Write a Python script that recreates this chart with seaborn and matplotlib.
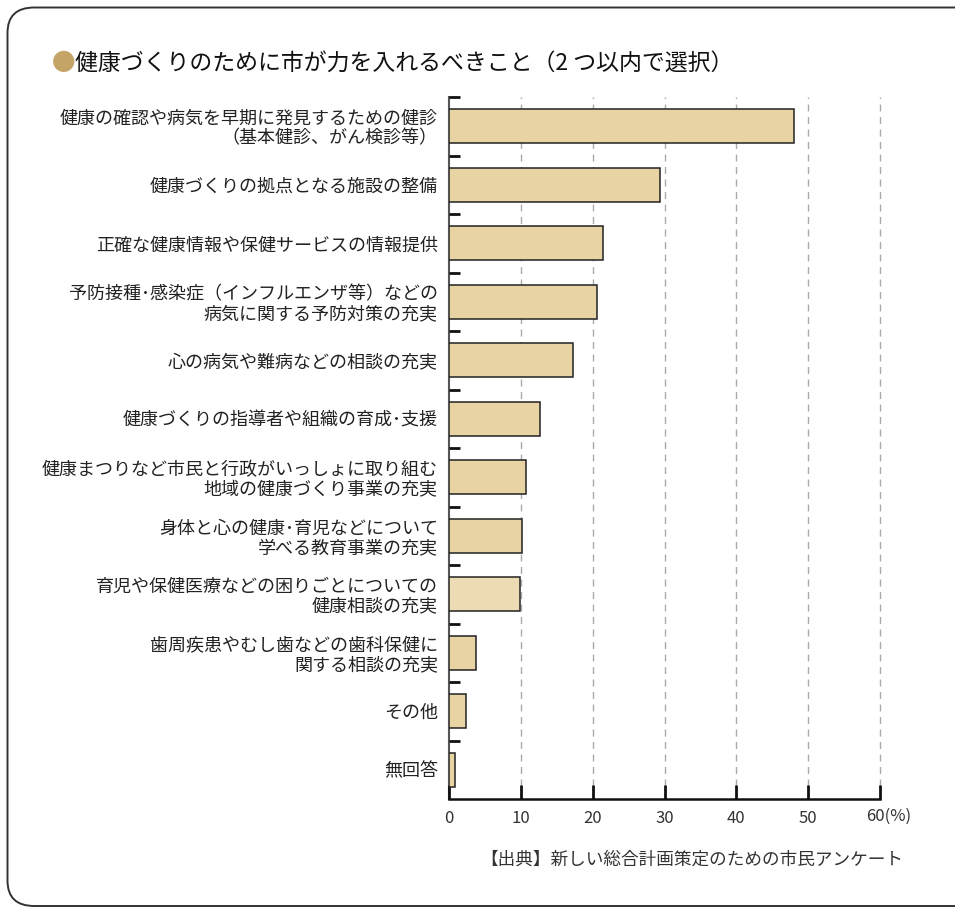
import matplotlib
matplotlib.use("Agg")
import matplotlib.pyplot as plt
import seaborn as sns
import pandas as pd
from matplotlib.patches import FancyBboxPatch

sns.set_theme(style="white")
plt.rcParams['font.family'] = ['Noto Sans CJK JP', 'DejaVu Sans']

title = "健康づくりのために市が力を入れるべきこと（2 つ以内で選択）"
source = "【出典】新しい総合計画策定のための市民アンケート"

categories = [
    "健康の確認や病気を早期に発見するための健診\n（基本健診、がん検診等）",
    "健康づくりの拠点となる施設の整備",
    "正確な健康情報や保健サービスの情報提供",
    "予防接種･感染症（インフルエンザ等）などの\n病気に関する予防対策の充実",
    "心の病気や難病などの相談の充実",
    "健康づくりの指導者や組織の育成･支援",
    "健康まつりなど市民と行政がいっしょに取り組む\n地域の健康づくり事業の充実",
    "身体と心の健康･育児などについて\n学べる教育事業の充実",
    "育児や保健医療などの困りごとについての\n健康相談の充実",
    "歯周疾患やむし歯などの歯科保健に\n関する相談の充実",
    "その他",
    "無回答",
]
values = [48.0, 29.4, 21.5, 20.6, 17.3, 12.6, 10.7, 10.1, 9.9, 3.8, 2.4, 0.9]
x_ticks = [0, 10, 20, 30, 40, 50, 60]
x_ticklabels = ["0", "10", "20", "30", "40", "50", ""]

bar_color = "#e8d3a3"
light_color = "#eddcb3"
colors = [bar_color] * len(categories)
colors[8] = light_color

df = pd.DataFrame({"cat": categories, "val": values})

fig = plt.figure(figsize=(9.55, 9.08), dpi=100)

# rounded frame
frame = FancyBboxPatch((7.5 / 955, 1 - 906 / 908), 1.2, (906 - 7.5) / 908,
                       boxstyle="round,pad=0,rounding_size=0.028",
                       transform=fig.transFigure, fill=False,
                       edgecolor="#333333", linewidth=1.4, clip_on=False)
fig.patches.append(frame)

ax = fig.add_axes([449 / 955, 1 - 799 / 908, (880 - 449) / 955, (799 - 97) / 908])
sns.barplot(data=df, x="val", y="cat", hue="cat", palette=colors, legend=False,
            orient="h", width=0.575, edgecolor="#222222", linewidth=1.1, ax=ax,
            saturation=1, zorder=3)

ax.set_xlim(0, 60)
ax.set_ylim(len(categories) - 0.5, -0.5)
ax.set_xlabel("")
ax.set_ylabel("")
ax.set_axisbelow(False)

# gridlines
for t in x_ticks[1:]:
    ax.axvline(t, ymin=0.018, ymax=1, color="#aaaaaa", linestyle=(0, (5, 4)),
               linewidth=1.0, zorder=0.5, clip_on=False)

ax.set_xticks(x_ticks)
ax.set_xticklabels(x_ticklabels)
ax.tick_params(axis="x", direction="in", length=10, width=2, color="#111111",
               labelsize=12, labelcolor="#333333", pad=8, bottom=True)
ax.text(58.1, -0.013, "60(%)", transform=ax.get_xaxis_transform(), ha="left", va="top",
        fontsize=12, color="#333333")
# y: labels at centers, ticks at boundaries
ax.set_yticks(range(len(categories)))
ax.set_yticklabels(categories, fontsize=13, color="#222222", linespacing=1.1)
ax.tick_params(axis="y", which="major", length=0, pad=8, left=False)
ax.set_yticks([i - 0.5 for i in range(len(categories))], minor=True)
ax.tick_params(axis="y", which="minor", direction="in", length=8, width=2,
               color="#111111", left=True)
for lab in ax.get_yticklabels():
    lab.set_horizontalalignment("right")
    lab.set_multialignment("right")

for s in ["top", "right"]:
    ax.spines[s].set_visible(False)
ax.spines["left"].set_color("#555555")
ax.spines["left"].set_linewidth(1.5)
ax.spines["bottom"].set_color("#111111")
ax.spines["bottom"].set_linewidth(1.8)

# title
fig.text(52 / 955, 1 - 63 / 908, "●", fontsize=17, color="#c4a467", va="center", ha="left")
fig.text(75 / 955, 1 - 63 / 908, title, fontsize=16.5, color="#111111", va="center", ha="left")

# source
fig.text(480 / 955, 1 - 860 / 908, source, fontsize=12.7, color="#333333", ha="left", va="center")

fig.savefig("out.png", dpi=100)
